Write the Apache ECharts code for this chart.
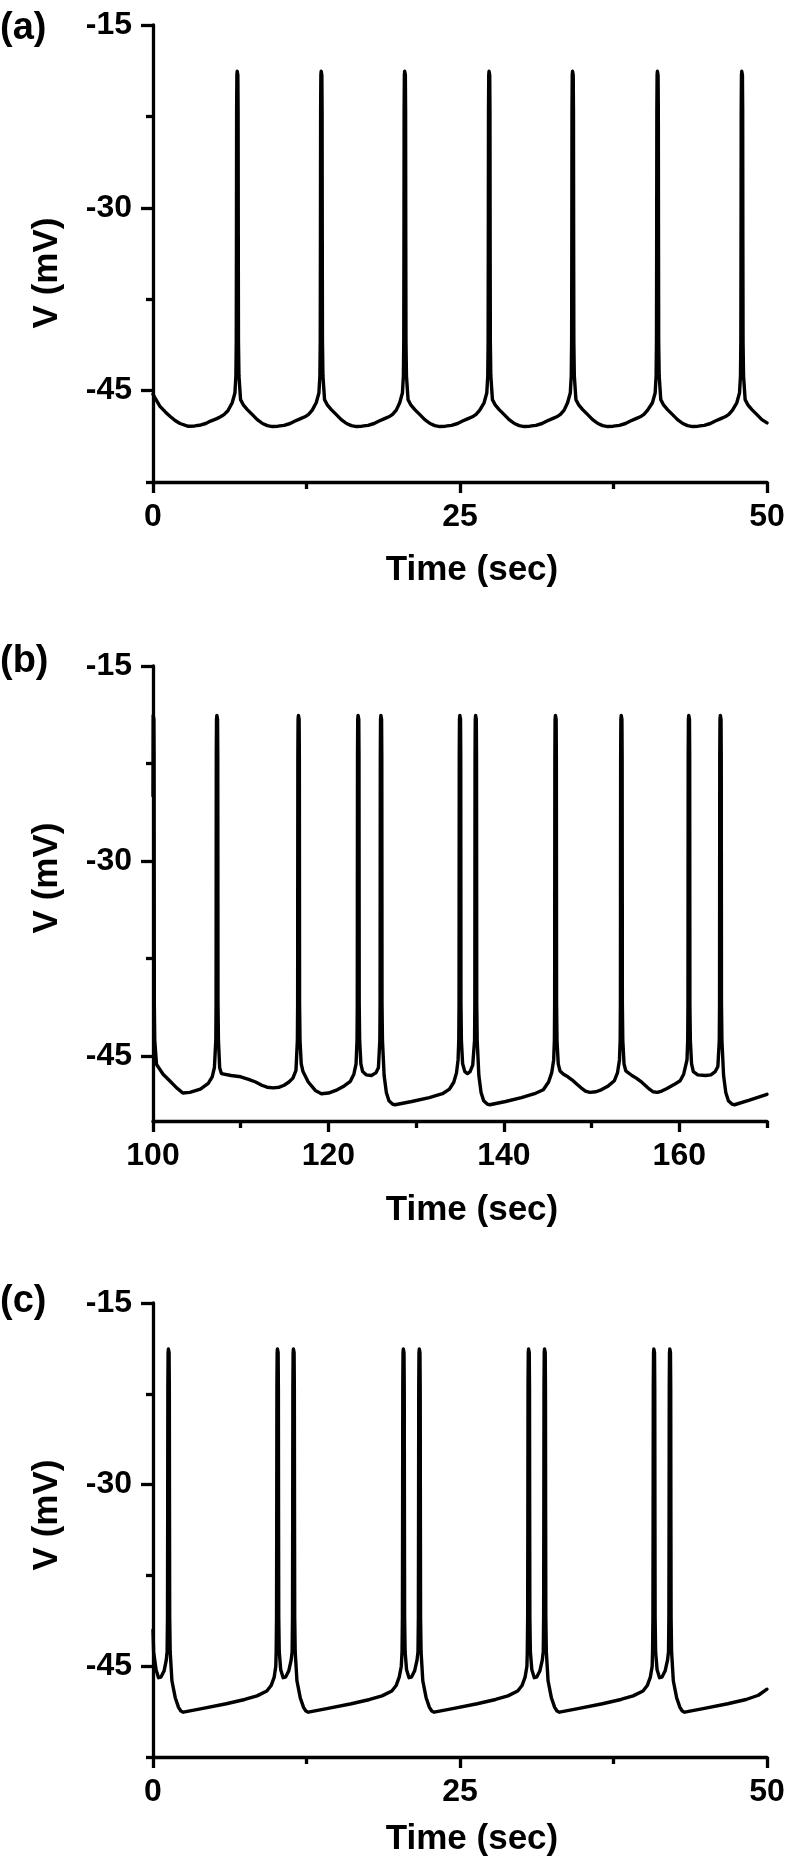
<!DOCTYPE html>
<html>
<head>
<meta charset="utf-8">
<script src="https://cdn.jsdelivr.net/npm/echarts@6/dist/echarts.min.js"></script>
<style>
html,body{margin:0;padding:0;background:#fff;}
#chart{width:790px;height:1862px;}
</style>
</head>
<body>
<div id="chart"></div>
<script>
// ---------- data ----------
const panelLabels = ['(a)', '(b)', '(c)'];
const xName = 'Time (sec)';
const yName = 'V (mV)';

// tick values
const xRangeA = [0, 50];
const xMajorA = [0, 25, 50];
const xMinorA = [12.5, 37.5];
const yRangeA = [-52.5, -15];
const yMajorA = [-45, -30, -15];
const yMinorA = [-52.5, -37.5, -22.5];

const xRangeB = [100, 170];
const xMajorB = [100, 120, 140, 160];
const xMinorB = [110, 130, 150, 170];
const yRangeB = [-50, -15];
const yMajorB = [-45, -30, -15];
const yMinorB = [-37.5, -22.5];

const xRangeC = [0, 50];
const xMajorC = [0, 25, 50];
const xMinorC = [12.5, 37.5];
const yRangeC = [-52.5, -15];
const yMajorC = [-45, -30, -15];
const yMinorC = [-52.5, -37.5, -22.5];

// (a) membrane potential trace [time s, V mV]
const traceA = [
[0,-45.3],[0.16,-45.6],[0.57,-46.3],[1.0,-46.75],[1.38,-47.1],[1.8,-47.45],[2.2,-47.7],[2.88,-47.93],[3.4,-47.9],[3.9,-47.82],[4.3,-47.7],[4.69,-47.5],[5.2,-47.3],[5.5,-47.15],[5.78,-46.97],[6.1,-46.65],[6.45,-46.0],
[6.67,-45.2],[6.75,-43.8],[6.78,-41],[6.795,-33],[6.81,-22],[6.83,-19.1],[6.855,-18.8],[6.885,-18.8],[6.91,-19.1],[6.93,-22],[6.945,-33],[6.96,-41],[7.0,-43.8],[7.13,-45.74],[7.37,-46.2],[7.68,-46.56],[8.07,-46.95],[8.49,-47.38],[8.92,-47.7],[9.31,-47.87],[9.72,-47.95],[10.17,-47.92],[10.67,-47.85],[11.17,-47.7],[11.57,-47.5],[12.02,-47.3],[12.37,-47.15],[12.67,-46.95],[12.97,-46.6],[13.29,-46.0],
[13.51,-45.2],[13.59,-43.8],[13.62,-41],[13.635,-33],[13.65,-22],[13.67,-19.1],[13.695,-18.8],[13.725,-18.8],[13.75,-19.1],[13.77,-22],[13.785,-33],[13.8,-41],[13.84,-43.8],[13.97,-45.74],[14.21,-46.2],[14.52,-46.56],[14.91,-46.95],[15.33,-47.38],[15.76,-47.7],[16.15,-47.87],[16.56,-47.95],[17.01,-47.92],[17.51,-47.85],[18.01,-47.7],[18.41,-47.5],[18.86,-47.3],[19.21,-47.15],[19.51,-46.95],[19.81,-46.6],[20.09,-46.0],
[20.31,-45.2],[20.39,-43.8],[20.42,-41],[20.435,-33],[20.45,-22],[20.47,-19.1],[20.495,-18.8],[20.525,-18.8],[20.55,-19.1],[20.57,-22],[20.585,-33],[20.6,-41],[20.64,-43.8],[20.77,-45.74],[21.01,-46.2],[21.32,-46.56],[21.71,-46.95],[22.13,-47.38],[22.56,-47.7],[22.95,-47.87],[23.36,-47.95],[23.81,-47.92],[24.31,-47.85],[24.81,-47.7],[25.21,-47.5],[25.66,-47.3],[26.01,-47.15],[26.31,-46.95],[26.61,-46.6],[26.96,-46.0],
[27.18,-45.2],[27.26,-43.8],[27.29,-41],[27.305,-33],[27.32,-22],[27.34,-19.1],[27.365,-18.8],[27.395,-18.8],[27.42,-19.1],[27.44,-22],[27.455,-33],[27.47,-41],[27.51,-43.8],[27.64,-45.74],[27.88,-46.2],[28.19,-46.56],[28.58,-46.95],[29.0,-47.38],[29.43,-47.7],[29.82,-47.87],[30.23,-47.95],[30.68,-47.92],[31.18,-47.85],[31.68,-47.7],[32.08,-47.5],[32.53,-47.3],[32.88,-47.15],[33.18,-46.95],[33.48,-46.6],[33.76,-46.0],
[33.98,-45.2],[34.06,-43.8],[34.09,-41],[34.105,-33],[34.12,-22],[34.14,-19.1],[34.165,-18.8],[34.195,-18.8],[34.22,-19.1],[34.24,-22],[34.255,-33],[34.27,-41],[34.31,-43.8],[34.44,-45.74],[34.68,-46.2],[34.99,-46.56],[35.38,-46.95],[35.8,-47.38],[36.23,-47.7],[36.62,-47.87],[37.03,-47.95],[37.48,-47.92],[37.98,-47.85],[38.48,-47.7],[38.88,-47.5],[39.33,-47.3],[39.68,-47.15],[39.98,-46.95],[40.28,-46.6],[40.67,-46.0],
[40.89,-45.2],[40.97,-43.8],[41.0,-41],[41.015,-33],[41.03,-22],[41.05,-19.1],[41.075,-18.8],[41.105,-18.8],[41.13,-19.1],[41.15,-22],[41.165,-33],[41.18,-41],[41.22,-43.8],[41.35,-45.74],[41.59,-46.2],[41.9,-46.56],[42.29,-46.95],[42.71,-47.38],[43.14,-47.7],[43.53,-47.87],[43.94,-47.95],[44.39,-47.92],[44.89,-47.85],[45.39,-47.7],[45.79,-47.5],[46.24,-47.3],[46.59,-47.15],[46.89,-46.95],[47.19,-46.6],[47.54,-46.0],
[47.76,-45.2],[47.84,-43.8],[47.87,-41],[47.885,-33],[47.9,-22],[47.92,-19.1],[47.945,-18.8],[47.975,-18.8],[48.0,-19.1],[48.02,-22],[48.035,-33],[48.05,-41],[48.09,-43.8],[48.22,-45.74],[48.46,-46.2],[48.77,-46.56],[49.16,-46.95],[49.58,-47.38],[50,-47.65]
];

// (b) membrane potential trace
const traceB = [
[100,-25],[100.02,-18.8],[100.06,-18.8],[100.1,-19.1],[100.125,-22],[100.14,-33],[100.15,-41],[100.2,-43.8],[100.4,-45.64],[101.15,-46.4],[101.9,-46.9],[102.7,-47.45],[103.4,-47.85],[104.2,-47.8],[105.4,-47.54],[106.3,-47.1],[106.75,-46.6],[107.0,-45.9],
[107.16,-43.8],[107.19,-41],[107.2,-33],[107.215,-22],[107.24,-19.1],[107.28,-18.8],[107.32,-18.8],[107.36,-19.1],[107.385,-22],[107.4,-33],[107.41,-41],[107.46,-43.8],[107.6,-45.9],[107.8,-46.35],[108.9,-46.5],[110.0,-46.6],[110.9,-46.8],[111.7,-47.0],[112.4,-47.25],[113.0,-47.4],[113.7,-47.45],[114.4,-47.4],[114.95,-47.25],[115.5,-47.0],[115.95,-46.7],[116.3,-46.1],
[116.46,-43.8],[116.49,-41],[116.5,-33],[116.515,-22],[116.54,-19.1],[116.58,-18.8],[116.62,-18.8],[116.66,-19.1],[116.685,-22],[116.7,-33],[116.71,-41],[116.76,-43.8],[116.9,-45.6],[117.1,-46.2],[117.7,-47.0],[118.5,-47.65],[119.2,-47.9],[120.0,-47.85],[121.0,-47.6],[121.8,-47.3],[122.5,-46.95],[122.9,-46.4],[123.15,-45.6],
[123.26,-43.8],[123.29,-41],[123.3,-33],[123.315,-22],[123.34,-19.1],[123.38,-18.8],[123.42,-18.8],[123.46,-19.1],[123.485,-22],[123.5,-33],[123.51,-41],[123.56,-43.8],[123.7,-45.6],[123.9,-46.2],[124.3,-46.45],[124.9,-46.5],[125.4,-46.3],[125.7,-45.9],
[125.86,-43.8],[125.89,-41],[125.9,-33],[125.915,-22],[125.94,-19.1],[125.98,-18.8],[126.02,-18.8],[126.06,-19.1],[126.085,-22],[126.1,-33],[126.11,-41],[126.16,-43.8],[126.35,-46.5],[126.6,-47.8],[126.9,-48.45],[127.3,-48.7],[127.6,-48.75],[129.5,-48.5],[131.5,-48.2],[133.0,-47.9],[133.8,-47.55],[134.3,-47.0],[134.6,-46.3],[134.78,-45.3],
[134.86,-43.8],[134.89,-41],[134.9,-33],[134.915,-22],[134.94,-19.1],[134.98,-18.8],[135.02,-18.8],[135.06,-19.1],[135.085,-22],[135.1,-33],[135.11,-41],[135.16,-43.8],[135.3,-45.6],[135.55,-46.2],[135.85,-46.35],[136.15,-46.2],[136.45,-45.7],
[136.66,-43.8],[136.69,-41],[136.7,-33],[136.715,-22],[136.74,-19.1],[136.78,-18.8],[136.82,-18.8],[136.86,-19.1],[136.885,-22],[136.9,-33],[136.91,-41],[136.96,-43.8],[137.15,-46.5],[137.4,-47.8],[137.7,-48.45],[138.1,-48.7],[138.4,-48.75],[140.2,-48.5],[142.0,-48.2],[143.5,-47.9],[144.5,-47.6],[145.1,-47.0],[145.45,-46.3],[145.68,-45.3],
[145.76,-43.8],[145.79,-41],[145.8,-33],[145.815,-22],[145.84,-19.1],[145.88,-18.8],[145.92,-18.8],[145.96,-19.1],[145.985,-22],[146.0,-33],[146.01,-41],[146.06,-43.8],[146.2,-45.6],[146.4,-46.15],[146.8,-46.4],[147.3,-46.6],[147.8,-46.85],[148.3,-47.15],[148.8,-47.45],[149.3,-47.7],[149.8,-47.8],[150.5,-47.75],[151.1,-47.6],[151.9,-47.3],[152.6,-46.9],[152.95,-46.3],[153.18,-45.3],
[153.26,-43.8],[153.29,-41],[153.3,-33],[153.315,-22],[153.34,-19.1],[153.38,-18.8],[153.42,-18.8],[153.46,-19.1],[153.485,-22],[153.5,-33],[153.51,-41],[153.56,-43.8],[153.7,-45.6],[153.9,-46.15],[154.6,-46.5],[155.1,-46.7],[155.6,-46.95],[156.1,-47.25],[156.6,-47.55],[157.0,-47.75],[157.5,-47.8],[158.0,-47.7],[158.6,-47.5],[159.4,-47.2],[160.1,-46.9],[160.5,-46.4],[160.88,-45.3],
[160.96,-43.8],[160.99,-41],[161.0,-33],[161.015,-22],[161.04,-19.1],[161.08,-18.8],[161.12,-18.8],[161.16,-19.1],[161.185,-22],[161.2,-33],[161.21,-41],[161.26,-43.8],[161.4,-45.6],[161.6,-46.2],[162.1,-46.45],[163.0,-46.5],[163.6,-46.45],[164.1,-46.2],[164.4,-45.8],
[164.56,-43.8],[164.59,-41],[164.6,-33],[164.615,-22],[164.64,-19.1],[164.68,-18.8],[164.72,-18.8],[164.76,-19.1],[164.785,-22],[164.8,-33],[164.81,-41],[164.86,-43.8],[165.05,-46.5],[165.3,-47.8],[165.6,-48.45],[166.0,-48.7],[166.3,-48.75],[168.0,-48.4],[170,-47.95]
];

// (c) membrane potential trace
const traceC = [
[0,-42],[0.05,-43.8],[0.25,-45.3],[0.45,-45.95],[0.65,-45.9],[0.9,-45.4],[1.08,-44.5],
[1.15,-43.8],[1.18,-41],[1.195,-33],[1.21,-22],[1.23,-19.1],[1.255,-18.8],[1.285,-18.8],[1.31,-19.1],[1.33,-22],[1.345,-33],[1.36,-41],[1.4,-43.8],[1.47,-45.0],[1.54,-46.2],[1.81,-47.6],[2.08,-48.4],[2.27,-48.7],[2.47,-48.8],[3.97,-48.5],[5.97,-48.1],[7.47,-47.75],[8.47,-47.45],[9.27,-47.05],[9.62,-46.6],[9.87,-45.9],[10.0,-45.0],
[10.03,-43.8],[10.06,-41],[10.075,-33],[10.09,-22],[10.11,-19.1],[10.135,-18.8],[10.165,-18.8],[10.19,-19.1],[10.21,-22],[10.225,-33],[10.24,-41],[10.28,-43.8],[10.4,-45.3],[10.6,-45.95],[10.8,-45.9],[11.05,-45.4],[11.25,-44.5],
[11.33,-43.8],[11.36,-41],[11.375,-33],[11.39,-22],[11.41,-19.1],[11.435,-18.8],[11.465,-18.8],[11.49,-19.1],[11.51,-22],[11.525,-33],[11.54,-41],[11.58,-43.8],[11.65,-45.0],[11.72,-46.2],[11.99,-47.6],[12.26,-48.4],[12.45,-48.7],[12.65,-48.8],[14.15,-48.5],[16.15,-48.1],[17.65,-47.75],[18.65,-47.45],[19.45,-47.05],[19.8,-46.6],[20.05,-45.9],[20.22,-45.0],
[20.28,-43.8],[20.31,-41],[20.325,-33],[20.34,-22],[20.36,-19.1],[20.385,-18.8],[20.415,-18.8],[20.44,-19.1],[20.46,-22],[20.475,-33],[20.49,-41],[20.53,-43.8],[20.65,-45.3],[20.85,-45.95],[21.05,-45.9],[21.3,-45.4],[21.5,-44.5],
[21.58,-43.8],[21.61,-41],[21.625,-33],[21.64,-22],[21.66,-19.1],[21.685,-18.8],[21.715,-18.8],[21.74,-19.1],[21.76,-22],[21.775,-33],[21.79,-41],[21.83,-43.8],[21.9,-45.0],[21.97,-46.2],[22.24,-47.6],[22.51,-48.4],[22.7,-48.7],[22.9,-48.8],[24.4,-48.5],[26.4,-48.1],[27.9,-47.75],[28.9,-47.45],[29.7,-47.05],[30.05,-46.6],[30.3,-45.9],[30.45,-45.0],
[30.48,-43.8],[30.51,-41],[30.525,-33],[30.54,-22],[30.56,-19.1],[30.585,-18.8],[30.615,-18.8],[30.64,-19.1],[30.66,-22],[30.675,-33],[30.69,-41],[30.73,-43.8],[30.85,-45.3],[31.05,-45.95],[31.25,-45.9],[31.5,-45.4],[31.7,-44.5],
[31.78,-43.8],[31.81,-41],[31.825,-33],[31.84,-22],[31.86,-19.1],[31.885,-18.8],[31.915,-18.8],[31.94,-19.1],[31.96,-22],[31.975,-33],[31.99,-41],[32.03,-43.8],[32.1,-45.0],[32.17,-46.2],[32.44,-47.6],[32.71,-48.4],[32.9,-48.7],[33.1,-48.8],[34.6,-48.5],[36.6,-48.1],[38.1,-47.75],[39.1,-47.45],[39.9,-47.05],[40.25,-46.6],[40.5,-45.9],[40.65,-45.0],
[40.68,-43.8],[40.71,-41],[40.725,-33],[40.74,-22],[40.76,-19.1],[40.785,-18.8],[40.815,-18.8],[40.84,-19.1],[40.86,-22],[40.875,-33],[40.89,-41],[40.93,-43.8],[41.05,-45.3],[41.25,-45.95],[41.45,-45.9],[41.7,-45.4],[41.9,-44.5],
[41.98,-43.8],[42.01,-41],[42.025,-33],[42.04,-22],[42.06,-19.1],[42.085,-18.8],[42.115,-18.8],[42.14,-19.1],[42.16,-22],[42.175,-33],[42.19,-41],[42.23,-43.8],[42.3,-45.0],[42.37,-46.2],[42.64,-47.6],[42.91,-48.4],[43.1,-48.7],[43.3,-48.8],[44.8,-48.5],[46.8,-48.1],[48.3,-47.75],[49.3,-47.4],[50,-46.9]
];

// ---------- chart ----------
const FONT = '"Liberation Sans", Arial, Helvetica, sans-serif';
const BLACK = '#000';

const panels = [
  {grid:{left:153, top:25, width:614, height:457}, xr:xRangeA, xM:xMajorA, xm:xMinorA, yr:yRangeA, yM:yMajorA, ym:yMinorA, data:traceA, xGap:71, yPad:[0,39,0,0], labelTop:10},
  {grid:{left:153, top:666, width:614, height:455}, xr:xRangeB, xM:xMajorB, xm:xMinorB, yr:yRangeB, yM:yMajorB, ym:yMinorB, data:traceB, xGap:72, yPad:[0,0,0,31], labelTop:643},
  {grid:{left:153, top:1303, width:614, height:454}, xr:xRangeC, xM:xMajorC, xm:xMinorC, yr:yRangeC, yM:yMajorC, ym:yMinorC, data:traceC, xGap:65, yPad:[0,0,0,30], labelTop:1283}
];

const grid = [], xAxis = [], yAxis = [], series = [], graphic = [];
panels.forEach((p, i) => {
  grid.push(Object.assign({containLabel:false, outerBoundsMode:'none'}, p.grid));
  xAxis.push({
    type:'value', gridIndex:i, min:p.xr[0], max:p.xr[1], position:'bottom',
    axisLine:{show:true, onZero:false, lineStyle:{color:BLACK, width:3.3}},
    axisTick:{show:true, inside:false, length:11, lineStyle:{color:BLACK, width:3.3}, customValues:p.xM},
    axisLabel:{show:true, customValues:p.xM, margin:19, color:BLACK, fontSize:32, fontWeight:'bold', fontFamily:FONT},
    splitLine:{show:false},
    name:xName, nameLocation:'middle', nameGap:p.xGap,
    nameTextStyle:{color:BLACK, fontSize:35, fontWeight:'bold', fontFamily:FONT, padding:[0,0,0,24]}
  });
  xAxis.push({
    type:'value', gridIndex:i, min:p.xr[0], max:p.xr[1], position:'bottom',
    axisLine:{show:false, onZero:false},
    axisTick:{show:true, inside:false, length:7, lineStyle:{color:BLACK, width:3.3}, customValues:p.xm},
    axisLabel:{show:false}, splitLine:{show:false}
  });
  yAxis.push({
    type:'value', gridIndex:i, min:p.yr[0], max:p.yr[1], position:'left',
    axisLine:{show:true, onZero:false, lineStyle:{color:BLACK, width:3.3}},
    axisTick:{show:true, inside:false, length:12, lineStyle:{color:BLACK, width:3.3}, customValues:p.yM},
    axisLabel:{show:true, customValues:p.yM, margin:21, color:BLACK, fontSize:32, fontWeight:'bold', fontFamily:FONT},
    splitLine:{show:false},
    name:yName, nameLocation:'middle', nameGap:88,
    nameTextStyle:{color:BLACK, fontSize:35, fontWeight:'bold', fontFamily:FONT, padding:p.yPad}
  });
  yAxis.push({
    type:'value', gridIndex:i, min:p.yr[0], max:p.yr[1], position:'left',
    axisLine:{show:false, onZero:false},
    axisTick:{show:true, inside:false, length:7, lineStyle:{color:BLACK, width:3.3}, customValues:p.ym},
    axisLabel:{show:false}, splitLine:{show:false}
  });
  series.push({
    type:'line', xAxisIndex:2*i, yAxisIndex:2*i, data:p.data,
    showSymbol:false, symbol:'none', smooth:false, silent:true, clip:true,
    lineStyle:{color:BLACK, width:3.4, join:'round', cap:'round'}
  });
  graphic.push({
    type:'text', left:0, top:p.labelTop,
    style:{text:panelLabels[i], fill:BLACK, font:'bold 38px ' + FONT}
  });
});

const chart = echarts.init(document.getElementById('chart'), null, {renderer:'canvas'});
chart.setOption({
  animation:false,
  backgroundColor:'#fff',
  grid, xAxis, yAxis, series, graphic
});
</script>
</body>
</html>
